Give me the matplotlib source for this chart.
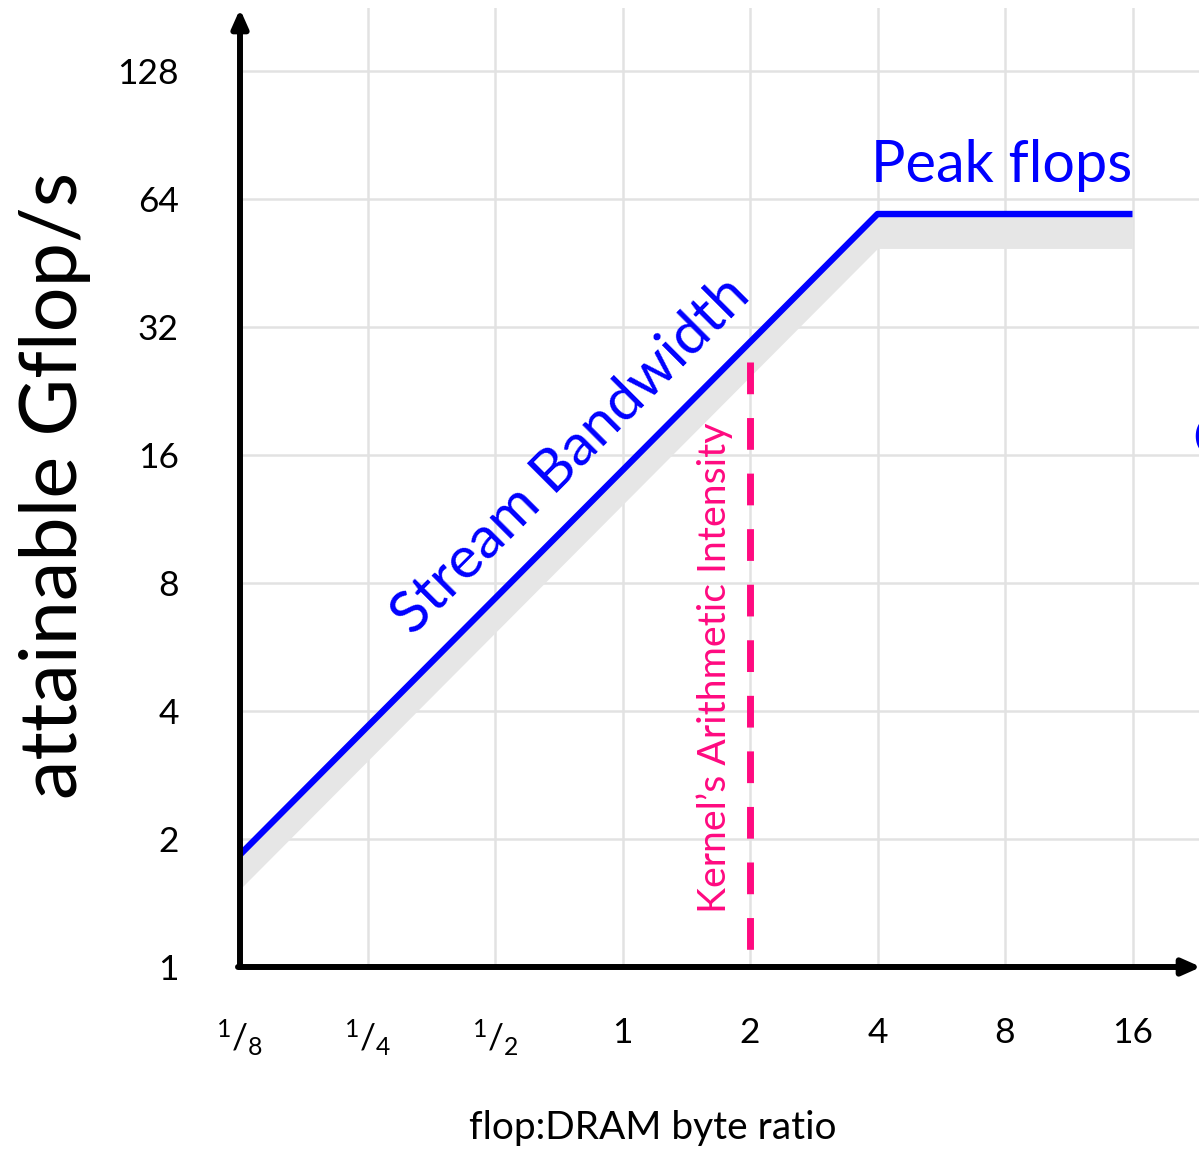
import matplotlib
matplotlib.use("Agg")
import matplotlib.pyplot as plt
import numpy as np

plt.rcParams['font.family'] = ['Lato', 'DejaVu Sans']
plt.rcParams['mathtext.fontset'] = 'custom'
plt.rcParams['mathtext.rm'] = 'Lato'
plt.rcParams['mathtext.it'] = 'Lato:italic'
plt.rcParams['mathtext.bf'] = 'Lato:bold'

# Roofline model parameters
peak_gflops = 59.0          # attainable compute ceiling
stream_bw = 14.7            # Gflop/s per unit of arithmetic intensity
kernel_ai = 2.0             # kernel's arithmetic intensity (flop:byte)
kernel_top = 26.5           # upper end of the kernel marker
kernel_bottom = 1.065

# Roofline corner points (x = flop:DRAM byte ratio)
roof_x = [1/8, 4, 16]
roof_y = [stream_bw / 8, peak_gflops, peak_gflops]
shadow_factor = 0.83

x_ticks = [1/8, 1/4, 1/2, 1, 2, 4, 8, 16]
x_tick_labels = [r'$\mathregular{^1/_8}$', r'$\mathregular{^1/_4}$',
                 r'$\mathregular{^1/_2}$', '1', '2', '4', '8', '16']
y_ticks = [1, 2, 4, 8, 16, 32, 64, 128]
y_tick_labels = ['1', '2', '4', '8', '16', '32', '64', '128']

BLUE = '#0000ff'
PINK = '#ff0a80'
GRID = '#e2e2e2'

fig = plt.figure(figsize=(11.99, 11.49), dpi=100)
ax = fig.add_axes([240/1199, (1149-967)/1149, 959/1199, (967-8)/1149])
ax.set_xscale('log', base=2)
ax.set_yscale('log', base=2)
ax.set_xlim(2**-3, 2**(-3 + 959/127.5))
ax.set_ylim(1, 2**(959/128))

for s in ax.spines.values():
    s.set_visible(False)

ax.set_xticks(x_ticks)
ax.set_xticklabels(x_tick_labels)
ax.set_yticks(y_ticks)
ax.set_yticklabels(y_tick_labels)
ax.minorticks_off()
ax.tick_params(axis='x', length=0, pad=36, labelsize=25.5)
ax.tick_params(axis='y', length=0, pad=44, labelsize=25.5)

# light grid
for xv in x_ticks[1:]:
    ax.axvline(xv, color=GRID, lw=1.8, zorder=0)
for yv in y_ticks[1:]:
    ax.axhline(yv, color=GRID, lw=1.8, zorder=0)

# shaded band beneath the roofline
rx = np.array(roof_x)
ry = np.array(roof_y)
ax.fill_between(rx, ry * shadow_factor, ry, color='#e6e6e6', lw=0, zorder=1)

# roofline
ax.plot(rx, ry, color=BLUE, lw=4.6, zorder=3, solid_capstyle='butt')

# kernel arithmetic intensity marker
ax.plot([kernel_ai, kernel_ai], [kernel_top, kernel_bottom], color=PINK, lw=5.0,
        linestyle=(0, (4.57, 3.43)), dash_capstyle='butt', zorder=4)

# axes with arrow heads
arrow_kw = dict(arrowstyle='-|>,head_length=0.9,head_width=0.4', mutation_scale=12,
                lw=4.3, color='black', shrinkA=0, shrinkB=0)
ax.annotate('', xy=(0, 1 - 1/959), xytext=(0, 0), xycoords='axes fraction',
            arrowprops=arrow_kw, annotation_clip=False)
ax.annotate('', xy=(1 + 2/959, 0), xytext=(-2/959, 0), xycoords='axes fraction',
            arrowprops=arrow_kw, annotation_clip=False)

# annotations
ax.text(0.807, 15.0, 'Stream Bandwidth', color=BLUE, fontsize=42.5, rotation=45,
        rotation_mode='anchor', ha='center', va='baseline', zorder=5)
ax.text(3.86, 70.2, 'Peak flops', color=BLUE, fontsize=41.5, ha='left', va='baseline', zorder=5)
ax.text(22.2, 17.3, 'Compute', color=BLUE, fontsize=41.5, ha='left', va='center',
        clip_on=True, zorder=5)
ax.text(1.65, 5.05, 'Kernel\u2019s Arithmetic Intensity', color=PINK, fontsize=28.3,
        rotation=90, ha='center', va='center', zorder=5)

fig.text(55/1199, 1 - 485/1149, 'attainable Gflop/s', fontsize=57, rotation=90,
         ha='center', va='center')
fig.text(653/1199, 1 - 1128/1149, 'flop:DRAM byte ratio', fontsize=28,
         ha='center', va='center')

fig.savefig('out.png', dpi=100)
